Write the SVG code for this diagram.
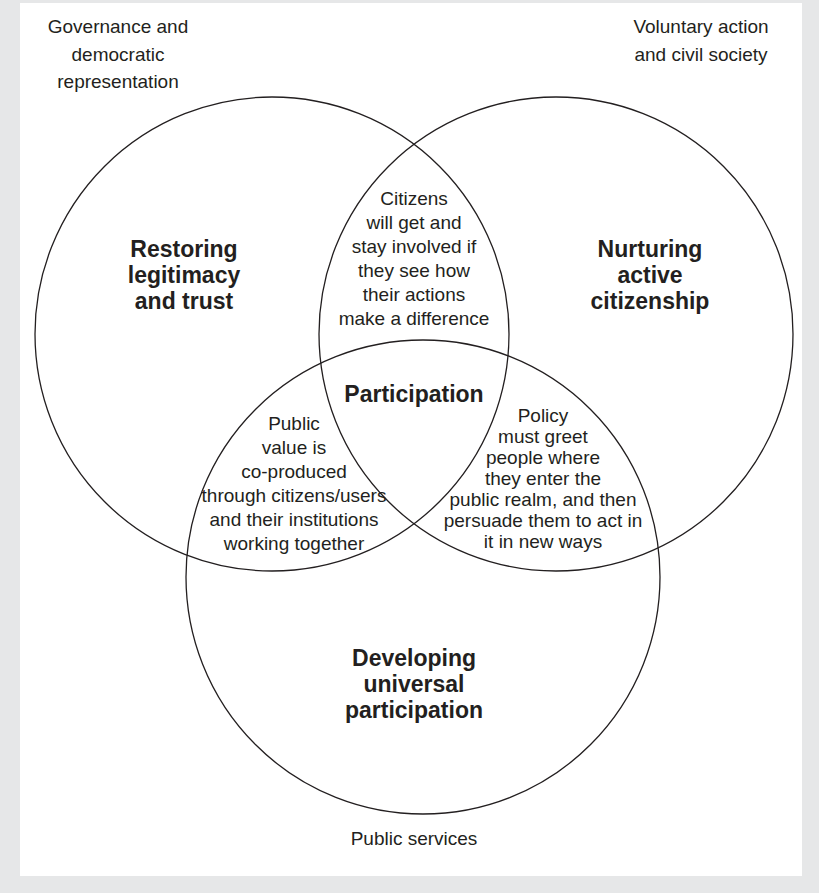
<svg xmlns="http://www.w3.org/2000/svg" width="819" height="893" viewBox="0 0 819 893">
  <style>
    .ring { fill: none; stroke: #231f20; stroke-width: 1.3; }
    .t { font-family: "Liberation Sans", Arial, sans-serif; font-size: 19px; fill: #231f20; text-anchor: middle; }
    .b { font-family: "Liberation Sans", Arial, sans-serif; font-size: 23px; font-weight: bold; fill: #231f20; text-anchor: middle; }
  </style>

  <!-- page backdrop and white panel -->
  <rect x="0" y="0" width="819" height="893" fill="#e6e7e8"/>
  <rect x="20" y="3" width="782" height="873" fill="#ffffff"/>

  <!-- outer domain labels -->
  <g id="label-governance">
    <text class="t" x="118" y="33">Governance and</text>
    <text class="t" x="118" y="61">democratic</text>
    <text class="t" x="118" y="88">representation</text>
  </g>
  <g id="label-voluntary">
    <text class="t" x="701" y="33">Voluntary action</text>
    <text class="t" x="701" y="61">and civil society</text>
  </g>
  <g id="label-public-services">
    <text class="t" x="414" y="845">Public services</text>
  </g>

  <!-- three overlapping circles -->
  <g id="circle-legitimacy">
    <circle class="ring" cx="272" cy="334" r="237"/>
    <text class="b" x="184" y="257">Restoring</text>
    <text class="b" x="184" y="283">legitimacy</text>
    <text class="b" x="184" y="309">and trust</text>
  </g>
  <g id="circle-citizenship">
    <circle class="ring" cx="556" cy="334" r="237"/>
    <text class="b" x="650" y="257">Nurturing</text>
    <text class="b" x="650" y="283">active</text>
    <text class="b" x="650" y="309">citizenship</text>
  </g>
  <g id="circle-universal">
    <circle class="ring" cx="423" cy="577" r="237"/>
    <text class="b" x="414" y="666">Developing</text>
    <text class="b" x="414" y="692">universal</text>
    <text class="b" x="414" y="718">participation</text>
  </g>

  <!-- overlap texts -->
  <g id="overlap-top">
    <text class="t" x="414" y="205">Citizens</text>
    <text class="t" x="414" y="229">will get and</text>
    <text class="t" x="414" y="253">stay involved if</text>
    <text class="t" x="414" y="277">they see how</text>
    <text class="t" x="414" y="301">their actions</text>
    <text class="t" x="414" y="325">make a difference</text>
  </g>
  <g id="overlap-left">
    <text class="t" x="294" y="430">Public</text>
    <text class="t" x="294" y="454">value is</text>
    <text class="t" x="294" y="478">co-produced</text>
    <text class="t" x="294" y="502">through citizens/users</text>
    <text class="t" x="294" y="526">and their institutions</text>
    <text class="t" x="294" y="550">working together</text>
  </g>
  <g id="overlap-right">
    <text class="t" x="543" y="422">Policy</text>
    <text class="t" x="543" y="443">must greet</text>
    <text class="t" x="543" y="464">people where</text>
    <text class="t" x="543" y="485">they enter the</text>
    <text class="t" x="543" y="506">public realm, and then</text>
    <text class="t" x="543" y="527">persuade them to act in</text>
    <text class="t" x="543" y="548">it in new ways</text>
  </g>
  <g id="centre">
    <text class="b" x="414" y="402">Participation</text>
  </g>

  <g id="connectors"/>
</svg>
